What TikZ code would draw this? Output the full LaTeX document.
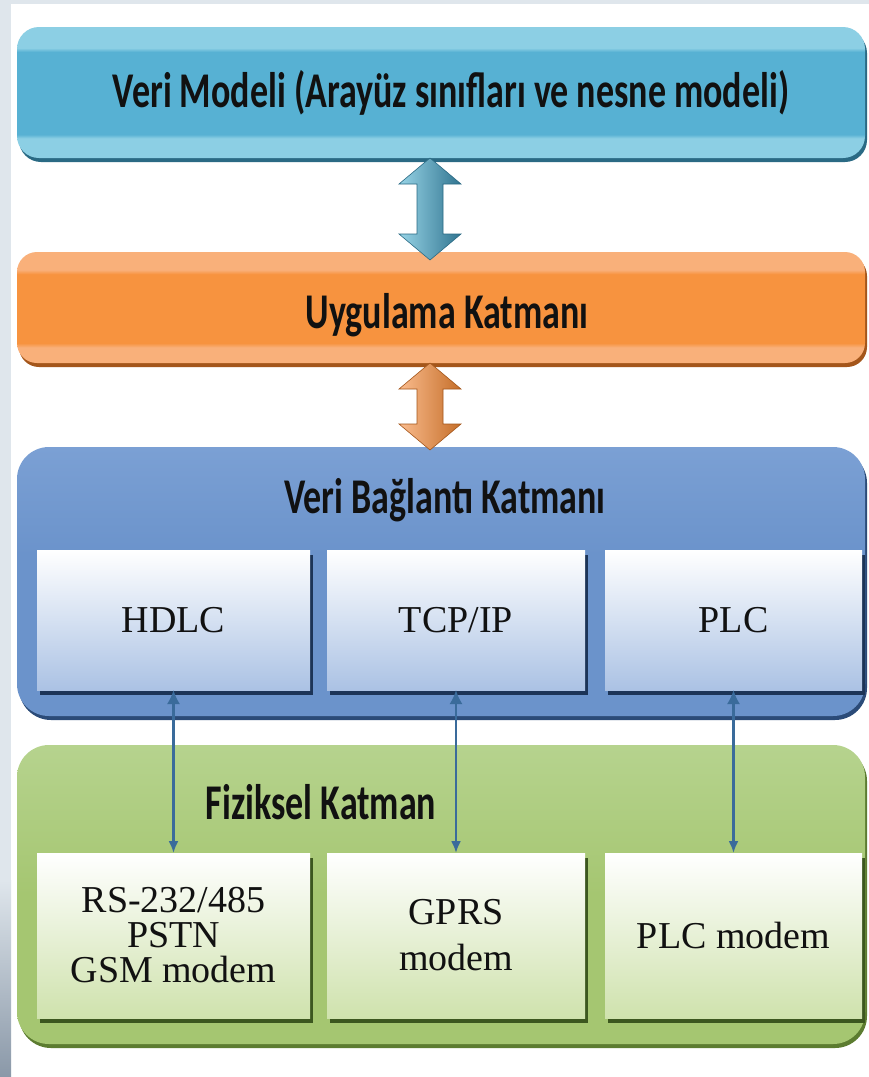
\documentclass[tikz,border=0pt]{standalone}
\usepackage{fontspec}
\setmainfont{Liberation Serif}
\newfontfamily\headfont[FakeStretch=0.72]{Carlito}
\usetikzlibrary{arrows.meta,calc,shadows}

% layer colours
\definecolor{vmL}{HTML}{8CCFE4}
\definecolor{vmM}{HTML}{57B1D3}
\definecolor{vmD}{HTML}{2A6A84}
\definecolor{apL}{HTML}{F9B07A}
\definecolor{apM}{HTML}{F7933F}
\definecolor{apD}{HTML}{A4561B}
\definecolor{dlL}{HTML}{7BA0D4}
\definecolor{dlM}{HTML}{6B93CB}
\definecolor{dlD}{HTML}{2B4B78}
\definecolor{dlIn}{HTML}{ABC2E4}
\definecolor{dlSh}{HTML}{1C3457}
\definecolor{phL}{HTML}{B6D38E}
\definecolor{phM}{HTML}{A5C671}
\definecolor{phD}{HTML}{5C7C30}
\definecolor{phIn}{HTML}{CFE2AD}
\definecolor{phSh}{HTML}{3C571F}
\definecolor{link}{HTML}{3A6B9B}
\definecolor{ink}{HTML}{111111}
\definecolor{strip}{HTML}{DFE6EC}
\definecolor{stripdark}{HTML}{8A98A8}

% banded fills of the outer layers (box maps to 25bp..75bp)
\pgfdeclareverticalshading{vmshade}{100bp}{color(0bp)=(vmL); color(32.5bp)=(vmL); color(34bp)=(vmM); color(65.5bp)=(vmM); color(67bp)=(vmL); color(100bp)=(vmL)}
\pgfdeclareverticalshading{apshade}{100bp}{color(0bp)=(apL); color(32bp)=(apL); color(34bp)=(apM); color(65bp)=(apM); color(67bp)=(apL); color(100bp)=(apL)}
\pgfdeclareverticalshading{dlshade}{100bp}{color(0bp)=(dlM); color(25bp)=(dlM); color(55bp)=(dlM); color(75bp)=(dlL); color(100bp)=(dlL)}
\pgfdeclareverticalshading{phshade}{100bp}{color(0bp)=(phM); color(25bp)=(phM); color(50bp)=(phM); color(75bp)=(phL); color(100bp)=(phL)}

\tikzset{
  layer/.style={draw=none, inner sep=0pt, outer sep=0pt, anchor=north west},
  vmlayer/.style={layer, shading=vmshade, rounded corners=22pt,
    drop shadow={shadow xshift=2pt, shadow yshift=-4pt, fill=vmD, opacity=1}},
  aplayer/.style={layer, shading=apshade, rounded corners=20pt,
    drop shadow={shadow xshift=2pt, shadow yshift=-4pt, fill=apD, opacity=1}},
  dllayer/.style={layer, shading=dlshade, rounded corners=32pt,
    drop shadow={shadow xshift=2pt, shadow yshift=-4pt, fill=dlD, opacity=1}},
  phlayer/.style={layer, shading=phshade, rounded corners=32pt,
    drop shadow={shadow xshift=2pt, shadow yshift=-4pt, fill=phD, opacity=1}},
  heading/.style={anchor=base, inner sep=0pt, text=ink,
    font=\headfont\bfseries\fontsize{50}{56}\selectfont},
  cell/.style={draw=none, inner sep=0pt, outer sep=0pt, anchor=north west,
    align=center, text=ink, font=\fontsize{38}{35}\selectfont},
  dlcell/.style={cell, top color=white, bottom color=dlIn,
    drop shadow={shadow xshift=3pt, shadow yshift=-5pt, fill=dlSh, opacity=1}},
  phcell/.style={cell, top color=white, bottom color=phIn,
    drop shadow={shadow xshift=3pt, shadow yshift=-5pt, fill=phSh, opacity=1}},
  linkarrow/.style={draw=link, line width=2.2pt,
    {Latex[length=14pt,width=13pt]}-{Latex[length=12pt,width=10pt]}},
  bluefat/.style={left color=vmL!90!white, right color=vmD!85!vmM, draw=vmD, line width=0.6pt},
  orangefat/.style={left color=apL!85!white, right color=apD!60!apM, draw=apD, line width=0.6pt},
}

% thick double-headed arrow between two tips (head length 26, half widths 31/13)
\newcommand\fatarrow[3]{%
  \path[#3] (#1) -- ($(#1)+(31,26)$) -- ($(#1)+(13,26)$) -- ($(#2)+(13,-26)$)
    -- ($(#2)+(31,-26)$) -- (#2) -- ($(#2)+(-31,-26)$) -- ($(#2)+(-13,-26)$)
    -- ($(#1)+(-13,26)$) -- ($(#1)+(-31,26)$) -- cycle;}

\begin{document}
\begin{tikzpicture}[x=1pt, y=-1pt]
  \useasboundingbox (0,0) rectangle (869,1077);
  \fill[white] (0,0) rectangle (869,1077);
  \fill[strip] (0,0) rectangle (869,4);
  \fill[strip] (0,0) rectangle (11,1077);
  \shade[top color=strip, bottom color=stripdark] (0,880) rectangle (11,1077);

  % outer layers
  \node[vmlayer, minimum width=848pt, minimum height=131pt] (vm) at (17,27) {};
  \node[aplayer, minimum width=848pt, minimum height=111pt] (app) at (17,252) {};
  \node[dllayer, minimum width=848pt, minimum height=269pt] (dl) at (17,447) {};
  \node[phlayer, minimum width=848pt, minimum height=299pt] (ph) at (17,745) {};

  % layer headings
  \node[heading] (vmtitle) at (451,107) {Veri Modeli (Arayüz sınıfları ve nesne modeli)};
  \node[heading] (aptitle) at (447,328) {Uygulama Katmanı};
  \node[heading] (dltitle) at (445,513) {Veri Bağlantı Katmanı};
  \node[heading] (phtitle) at (321,819) {Fiziksel Katman};

  % data link protocols
  \node[dlcell, minimum width=273pt, minimum height=140pt] (hdlc) at (37,550) {HDLC};
  \node[dlcell, minimum width=258pt, minimum height=140pt] (tcp) at (327,550) {TCP/IP};
  \node[dlcell, minimum width=257pt, minimum height=140pt] (plc) at (605,550) {PLC};

  % physical media
  \node[phcell, minimum width=273pt, minimum height=165pt] (rs) at (37,853)
    {RS-232/485\\PSTN\\GSM modem};
  \node[phcell, minimum width=258pt, minimum height=165pt] (gprs) at (327,853)
    {GPRS\\[11pt]modem};
  \node[phcell, minimum width=257pt, minimum height=165pt] (plcm) at (605,853)
    {PLC modem};

  % links between the two lower layers
  \draw[linkarrow] (hdlc.south) -- (rs.north);
  \draw[linkarrow] (tcp.south) -- (gprs.north);
  \draw[linkarrow] (plc.south) -- (plcm.north);

  % thick arrows between the upper layers
  \coordinate (vmtip) at (430,158);
  \coordinate (aptop) at (430,260);
  \coordinate (apbot) at (430,363);
  \coordinate (dltip) at (430,450);
  \fatarrow{vmtip}{aptop}{bluefat}
  \fatarrow{apbot}{dltip}{orangefat}
\end{tikzpicture}
\end{document}
